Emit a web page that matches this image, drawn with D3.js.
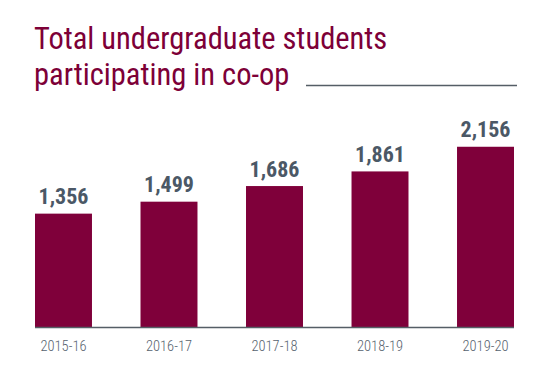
<!DOCTYPE html>
<html>
<head>
<meta charset="utf-8">
<script src="https://cdn.jsdelivr.net/npm/d3@7"></script>
<style>
  html, body { margin: 0; padding: 0; background: #fff; }
  svg { display: block; }
</style>
</head>
<body>
<svg id="chart" width="559" height="391"></svg>
<script>
const categories = ["2015-16", "2016-17", "2017-18", "2018-19", "2019-20"];
const values = [1356, 1499, 1686, 1861, 2156];
const titleLines = ["Total undergraduate students", "participating in co-op"];

const W = 559, H = 391;
const barColor = "#7f003a";
const titleColor = "#7d0037";
const textColor = "#4b5866";
const ruleColor = "#555e66";
const FONT = "'Liberation Sans Narrow', 'Arial Narrow', 'Roboto Condensed', 'DejaVu Sans Condensed', sans-serif";

const svg = d3.select("#chart");

const x = d3.scaleBand().domain(categories).range([35, 514]).paddingInner(0.46).paddingOuter(0);
const y = d3.scaleLinear().domain([0, 2500]).range([327, 118]);

// Title
const title = svg.append("g");
title.selectAll("text").data(titleLines).join("text")
  .attr("x", 34)
  .attr("y", (d, i) => 49 + i * 36)
  .attr("fill", titleColor)
  .attr("font-family", FONT)
  .attr("font-size", 30.5)
  .text(d => d);

// Rule next to second title line
svg.append("line")
  .attr("x1", 306).attr("x2", 517)
  .attr("y1", 85.5).attr("y2", 85.5)
  .attr("stroke", ruleColor).attr("stroke-width", 1.5);

// Bars
svg.append("g").selectAll("rect").data(values).join("rect")
  .attr("x", (d, i) => x(categories[i]))
  .attr("y", d => y(d))
  .attr("width", x.bandwidth())
  .attr("height", d => y(0) - y(d))
  .attr("fill", barColor);

// Value labels
const fmt = d3.format(",");
svg.append("g").selectAll("text").data(values).join("text")
  .attr("x", (d, i) => x(categories[i]) + x.bandwidth() / 2)
  .attr("y", d => y(d) - 9.5)
  .attr("text-anchor", "middle")
  .attr("fill", textColor)
  .attr("font-family", FONT)
  .attr("font-weight", "bold")
  .attr("font-size", 22)
  .text(d => fmt(d));

// X axis
const xAxis = d3.axisBottom(x).tickSize(0).tickPadding(14);
const gx = svg.append("g").attr("transform", `translate(0,${y(0)})`).call(xAxis);
gx.select(".domain").attr("stroke", ruleColor).attr("stroke-width", 1.5).attr("d", "M35,0.5H514");
gx.selectAll(".tick text")
  .attr("fill", "#56626e")
  .attr("font-family", FONT)
  .attr("font-weight", 300)
  .attr("font-size", 14.5)
  .attr("dy", "0.71em");
</script>
</body>
</html>
